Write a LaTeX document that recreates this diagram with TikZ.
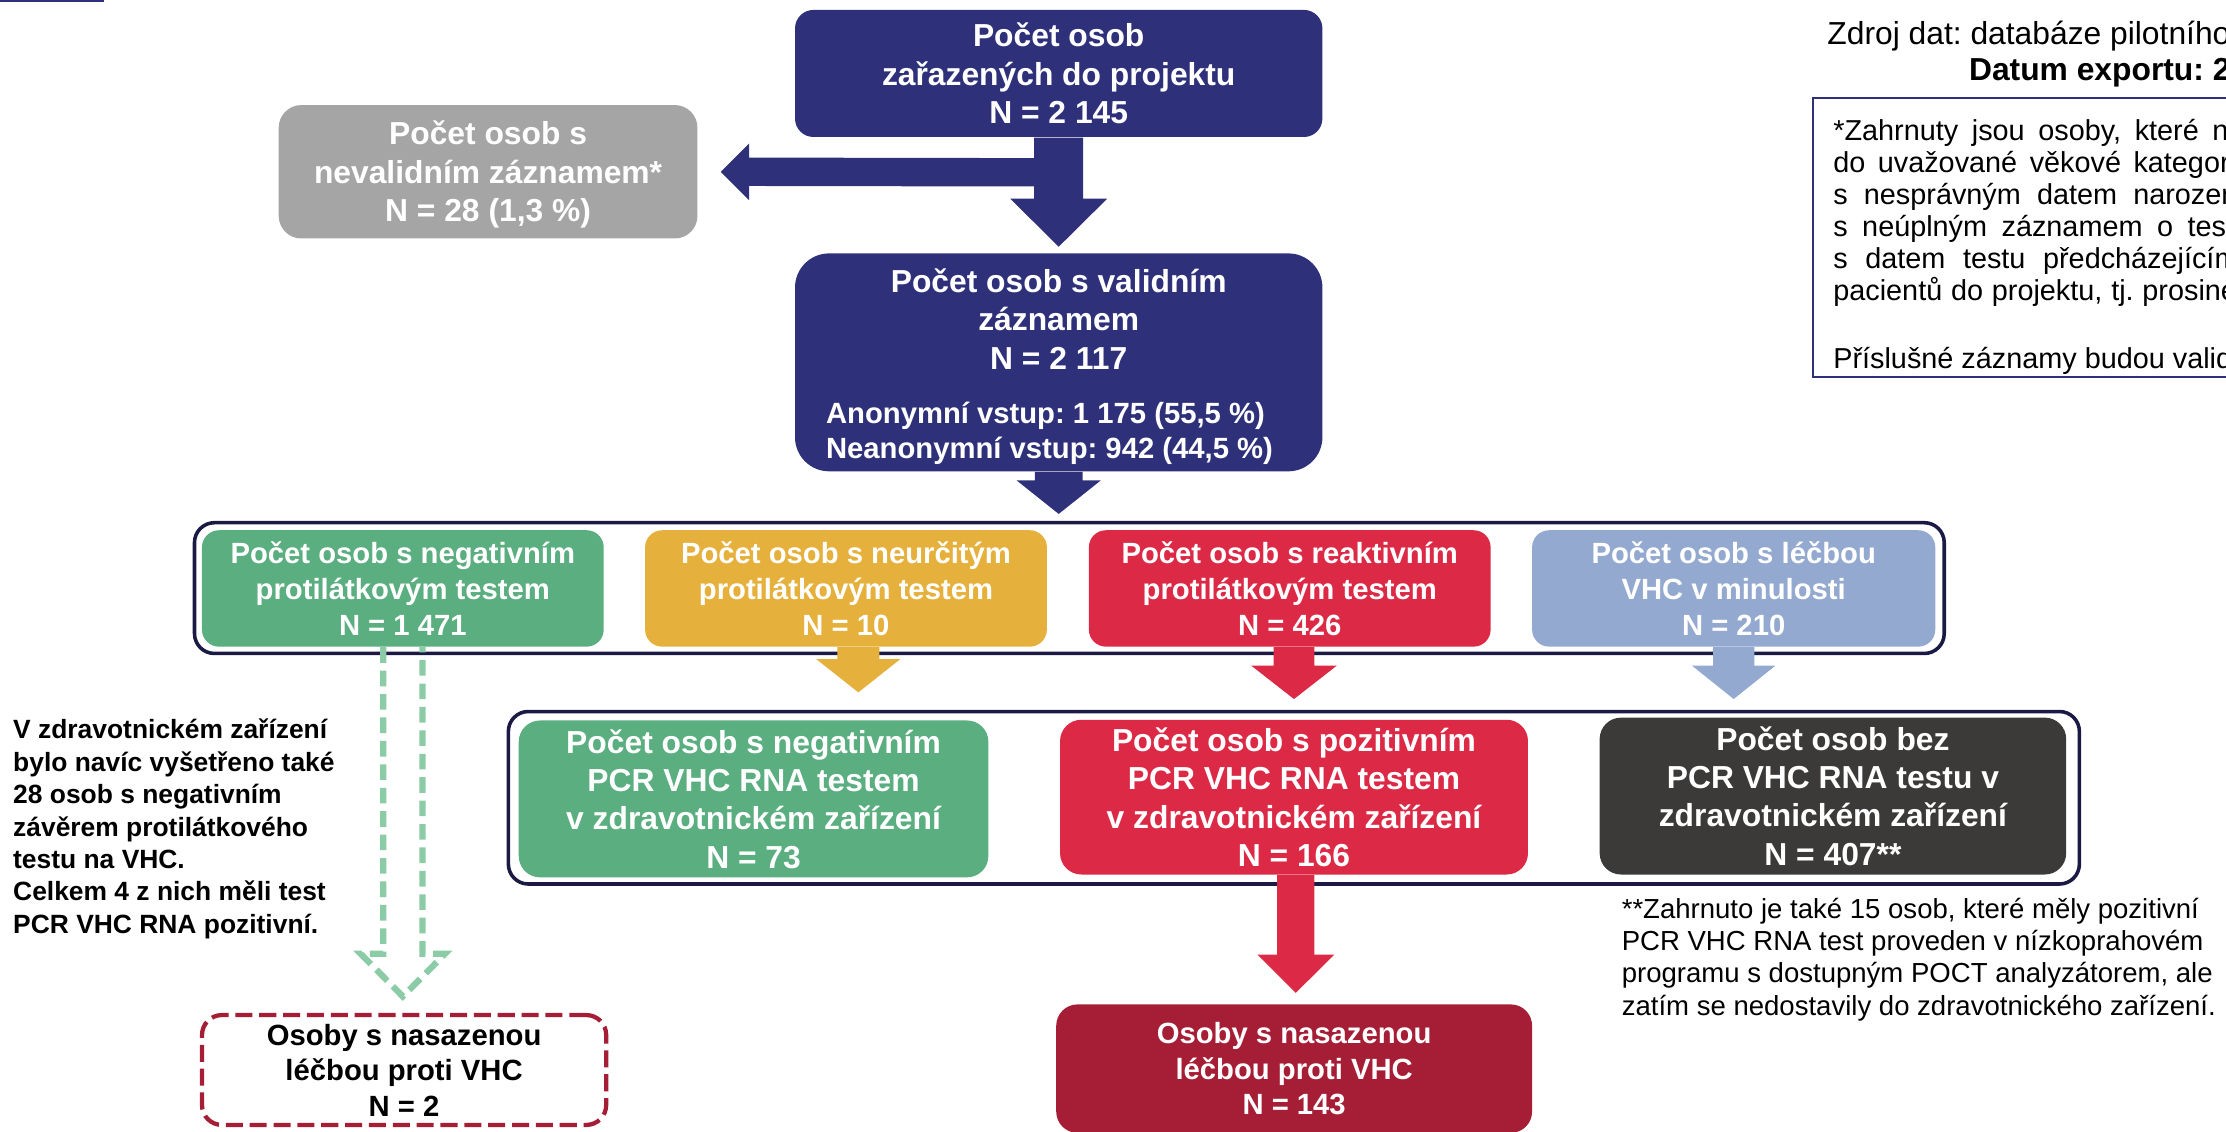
\documentclass[tikz,border=0pt]{standalone}
\usepackage{fontspec}
\setmainfont{Liberation Sans}
\usetikzlibrary{calc}
\frenchspacing
\definecolor{navy}{RGB}{46,49,122}
\definecolor{greyb}{RGB}{165,165,165}
\definecolor{greenb}{RGB}{90,174,128}
\definecolor{yellowb}{RGB}{229,177,60}
\definecolor{redb}{RGB}{220,42,70}
\definecolor{blueb}{RGB}{148,169,207}
\definecolor{darkb}{RGB}{59,58,57}
\definecolor{wineb}{RGB}{166,30,53}
\definecolor{dgreen}{RGB}{139,203,166}
\definecolor{framec}{RGB}{26,26,69}
% block arrow pointing down: from, tip, shaft half width, head half width, head length, colour
\newcommand\blockdown[6]{\fill[#6] ($(#1)+(-#3,0)$) -- ($(#1)+(#3,0)$) -- ($(#2)+(#3,-#5)$) -- ($(#2)+(#4,-#5)$) -- (#2) -- ($(#2)+(-#4,-#5)$) -- ($(#2)+(-#3,-#5)$) -- cycle;}
% block arrow pointing left
\newcommand\blockleft[6]{\fill[#6] ($(#1)+(0,-#3)$) -- ($(#2)+(#5,-#3)$) -- ($(#2)+(#5,-#4)$) -- (#2) -- ($(#2)+(#5,#4)$) -- ($(#2)+(#5,#3)$) -- ($(#1)+(0,#3)$) -- cycle;}
\newcommand\leftlines[1]{\vtop{\halign{##\hfil\cr#1\crcr}}}
\tikzset{
  bx/.style={rectangle, inner sep=0pt, align=center, text=white},
  fA/.style={font=\fontsize{11.2}{13.5}\selectfont\bfseries},
  fB/.style={font=\fontsize{10.3}{12.7}\selectfont\bfseries},
  fC/.style={font=\fontsize{10.3}{12.5}\selectfont\bfseries},
  frameline/.style={draw=framec, line width=1.25pt, rounded corners=7pt, inner sep=0pt},
  rowone/.style={bx, fB, rounded corners=6pt, minimum width=141.5pt, minimum height=41pt},
  rowtwo/.style={bx, fA, rounded corners=7.5pt},
  dgarrow/.style={draw=dgreen, line width=2.2pt, dash pattern=on 5.5pt off 2.75pt},
  plain/.style={inner sep=0pt, anchor=base west}
}
\begin{document}
\begin{tikzpicture}[x=0.5pt,y=-0.5pt]
\useasboundingbox (0,0) rectangle (1568,796.7);
\clip (0,0) rectangle (1568,796.7);

\fill[navy] (0,0) rectangle (73.4,1.6);

% header and notes
\node[plain, font=\fontsize{11.2}{13.5}\selectfont] (src) at (1286.8,31.7) {Zdroj dat: databáze pilotního};
\node[plain, font=\fontsize{11.2}{13.5}\selectfont\bfseries] (export) at (1386.6,56.4) {Datum exportu: 2};
\node[draw=navy, line width=0.7pt, inner sep=0pt, minimum width=200pt, minimum height=98.5pt, anchor=north west] (notebox) at (1276.6,68) {};
\node[plain, font=\fontsize{10.15}{11.3}\selectfont] (notetext) at (1291,98.9) {\leftlines{\spaceskip=4.8pt *Zahrnuty jsou osoby, které n\cr
\spaceskip=4.4pt do uvažované věkové kategor\cr
\spaceskip=5.7pt s nesprávným datem narozen\cr
\spaceskip=5.1pt s neúplným záznamem o test\cr
\spaceskip=6.2pt s datem testu předcházejícím\cr
\spaceskip=3.1pt pacientů do projektu, tj. prosine\cr
\noalign{\vskip12.45pt}
Příslušné záznamy budou valid}};

% frames
\node[frameline, minimum width=616.25pt, minimum height=46.05pt] (row1) at (753.25,414.25) {};
\node[frameline, minimum width=553.3pt, minimum height=60.75pt] (row2) at (911.4,561.95) {};

% boxes
\node[bx, fA, fill=navy, rounded corners=6.5pt, minimum width=185.75pt, minimum height=44.75pt] (topbox) at (745.75,51.75) {Počet osob\\zařazených do projektu\\N = 2 145};
\node[bx, fA, fill=greyb, rounded corners=8pt, minimum width=147.5pt, minimum height=47pt] (grey) at (343.8,121) {};
\node[fA, text=white, align=center, inner sep=0pt] (greytext) at ($(grey.center)+(0,2)$) {Počet osob s\\nevalidním záznamem*\\N = 28 (1,3 \%)};
\node[bx, fA, fill=navy, rounded corners=12pt, minimum width=185.75pt, minimum height=76.75pt] (valid) at (745.75,255.25) {};
\node[fA, text=white, align=center, inner sep=0pt] (validtext) at ($(valid.center)+(0,3)$) {Počet osob s validním\\záznamem\\N = 2 117\\[5.5pt]{\fontsize{10.3}{12.45}\selectfont\makebox[163.9pt][l]{Anonymní vstup: 1 175 (55,5 \%)}}\\[-1.05pt]{\fontsize{10.3}{12.45}\selectfont\makebox[163.9pt][l]{Neanonymní vstup: 942 (44,5 \%)}}};

\node[rowone, fill=greenb] (g1) at (283.75,414.5) {Počet osob s negativním\\protilátkovým testem\\N = 1 471};
\node[rowone, fill=yellowb] (y1) at (595.9,414.5) {Počet osob s neurčitým\\protilátkovým testem\\N = 10};
\node[rowone, fill=redb] (r1) at (908.5,414.5) {Počet osob s reaktivním\\protilátkovým testem\\N = 426};
\node[rowone, fill=blueb, minimum width=142pt] (b1) at (1221.2,414.5) {Počet osob s léčbou\\VHC v minulosti\\N = 210};

\node[rowtwo, fill=greenb, minimum width=165.4pt, minimum height=55.25pt] (g2) at (530.8,562.75) {Počet osob s negativním\\PCR VHC RNA testem\\v zdravotnickém zařízení\\N = 73};
\node[rowtwo, fill=redb, minimum width=164.8pt, minimum height=54.5pt] (r2) at (911.5,561.5) {Počet osob s pozitivním\\PCR VHC RNA testem\\v zdravotnickém zařízení\\N = 166};
\node[rowtwo, fill=darkb, minimum width=164.3pt, minimum height=55.25pt] (k2) at (1291.1,560.75) {Počet osob bez\\PCR VHC RNA testu v\\zdravotnickém zařízení\\N = 407**};

\node[bx, fC, fill=wineb, rounded corners=7.5pt, minimum width=167.6pt, minimum height=45.25pt] (r3) at (911.6,752.75) {Osoby s nasazenou\\léčbou proti VHC\\N = 143};
\node[bx, fC, text=black, fill=white, draw=wineb, line width=1.5pt, dash pattern=on 6pt off 2.4pt, rounded corners=7pt, minimum width=142.35pt, minimum height=38.7pt] (d3) at (284.65,753.7) {Osoby s nasazenou\\léčbou proti VHC\\N = 2};

% side texts
\node[plain, font=\fontsize{9.3}{11.4}\selectfont\bfseries] (sidenote) at (8.9,520.5) {\leftlines{V zdravotnickém zařízení\cr
bylo navíc vyšetřeno také\cr
28 osob s negativním\cr
závěrem protilátkového\cr
testu na VHC.\cr
Celkem 4 z nich měli test\cr
PCR VHC RNA pozitivní.}};
\node[plain, font=\fontsize{9.7}{11.35}\selectfont] (foot) at (1142,647) {\leftlines{**Zahrnuto je také 15 osob, které měly pozitivní\cr
PCR VHC RNA test proveden v nízkoprahovém\cr
programu s dostupným POCT analyzátorem, ale\cr
zatím se nedostavily do zdravotnického zařízení.}};

% connectors
\coordinate (a2src) at ($(topbox.south)+(0,24.5)$);
\coordinate (a2tip) at ($(grey.east)+(16,0)$);
\blockleft{a2src}{a2tip}{10}{20}{20}{navy}
\coordinate (a1tip) at ($(valid.north)+(0,-4.3)$);
\blockdown{topbox.south}{a1tip}{17.25}{34.1}{33.8}{navy}
\coordinate (a3tip) at ($(valid.south)+(0,29.6)$);
\blockdown{valid.south}{a3tip}{16.85}{29.65}{23.6}{navy}
\coordinate (a4src) at ($(y1.south)+(8.7,0)$);
\coordinate (a4tip) at ($(a4src)+(0,31.8)$);
\blockdown{a4src}{a4tip}{14.8}{29.7}{23.5}{yellowb}
\coordinate (a5src) at ($(r1.south)+(3,0)$);
\coordinate (a5tip) at ($(a5src)+(0,36.5)$);
\blockdown{a5src}{a5tip}{14.4}{30.1}{23.5}{redb}
\coordinate (a6tip) at ($(b1.south)+(0,36.5)$);
\blockdown{b1.south}{a6tip}{14.55}{29.35}{23.5}{blueb}
\coordinate (a7src) at ($(r2.south)+(1.25,0)$);
\coordinate (a7tip) at ($(a7src)+(0,83)$);
\blockdown{a7src}{a7tip}{13.15}{27.1}{27}{redb}
\coordinate (a8tip) at ($(g1.south)+(0,246)$);
\draw[dgarrow] ($(g1.south)+(-13.8,0)$) -- ($(a8tip)+(-13.8,-30)$) -- ($(a8tip)+(-29.65,-30)$) -- (a8tip) -- ($(a8tip)+(29.65,-30)$) -- ($(a8tip)+(13.8,-30)$) -- ($(g1.south)+(13.8,0)$);
\end{tikzpicture}
\end{document}
